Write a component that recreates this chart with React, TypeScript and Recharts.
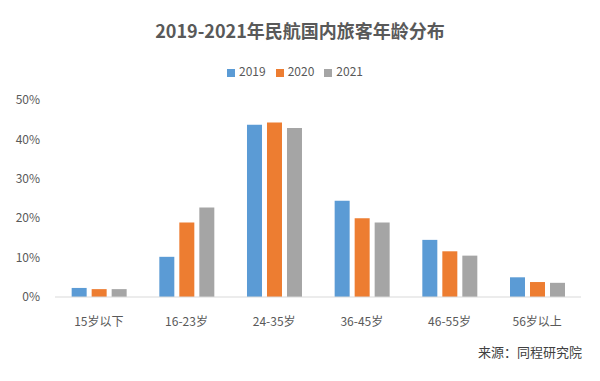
import React from "react";
import { BarChart, Bar, XAxis, YAxis, Legend, Customized } from "recharts";

const categories = ["15岁以下", "16-23岁", "24-35岁", "36-45岁", "46-55岁", "56岁以上"];
const values2019 = [0.023, 0.102, 0.437, 0.244, 0.145, 0.05];
const values2020 = [0.02, 0.189, 0.443, 0.2, 0.116, 0.038];
const values2021 = [0.02, 0.227, 0.429, 0.189, 0.105, 0.036];
const yTicks = [0, 0.1, 0.2, 0.3, 0.4, 0.5];
const seriesNames = ["2019", "2020", "2021"];
const colors = ["#5B9BD5", "#ED7D31", "#A5A5A5"];

const data = categories.map((c, i) => ({
  name: c,
  "2019": values2019[i],
  "2020": values2020[i],
  "2021": values2021[i],
}));

const FONT = "'Noto Sans CJK SC', 'Noto Sans', sans-serif";

export default function App() {
  return (
    <div style={{ position: "absolute", left: 0, top: 0, width: 600, height: 381, background: "#fff", fontFamily: FONT }}>
      <BarChart
        width={600}
        height={381}
        data={data}
        margin={{ top: 100, right: 19, bottom: 0, left: 0 }}
        barGap={5}
        barCategoryGap="19%"
      >
        <XAxis
          dataKey="name"
          axisLine={{ stroke: "#D9D9D9" }}
          tickLine={false}
          tickSize={10}
          tickMargin={10}
          height={84}
          interval={0}
          tick={{ fill: "#595959", fontSize: 12, fontFamily: FONT }}
        />
        <YAxis
          domain={[0, 0.5]}
          ticks={yTicks}
          width={55}
          axisLine={false}
          tickLine={false}
          tickSize={7}
          tickMargin={8}
          tickFormatter={(v: number) => `${Math.round(v * 100)}%`}
          tick={{ fill: "#595959", fontSize: 12, fontFamily: FONT }}
        />
        <Legend
          verticalAlign="middle"
          align="center"
          iconType="square"
          iconSize={8}
          wrapperStyle={{ top: 62, left: 0, width: 600, fontSize: 12, fontFamily: FONT }}
          formatter={(value: string) => <span style={{ color: "#595959" }}>{value}</span>}
        />
        {seriesNames.map((s, i) => (
          <Bar key={s} dataKey={s} fill={colors[i]} isAnimationActive={false} />
        ))}
        <Customized
          component={() => (
            <g>
              <text x={300} y={38} textAnchor="middle" fontSize={18} fontWeight="bold" fill="#595959" fontFamily={FONT}>
                2019-2021年民航国内旅客年龄分布
              </text>
              <text x={582} y={357} textAnchor="end" fontSize={13} fill="#404040" fontFamily={FONT}>
                来源：同程研究院
              </text>
            </g>
          )}
        />
      </BarChart>
    </div>
  );
}
